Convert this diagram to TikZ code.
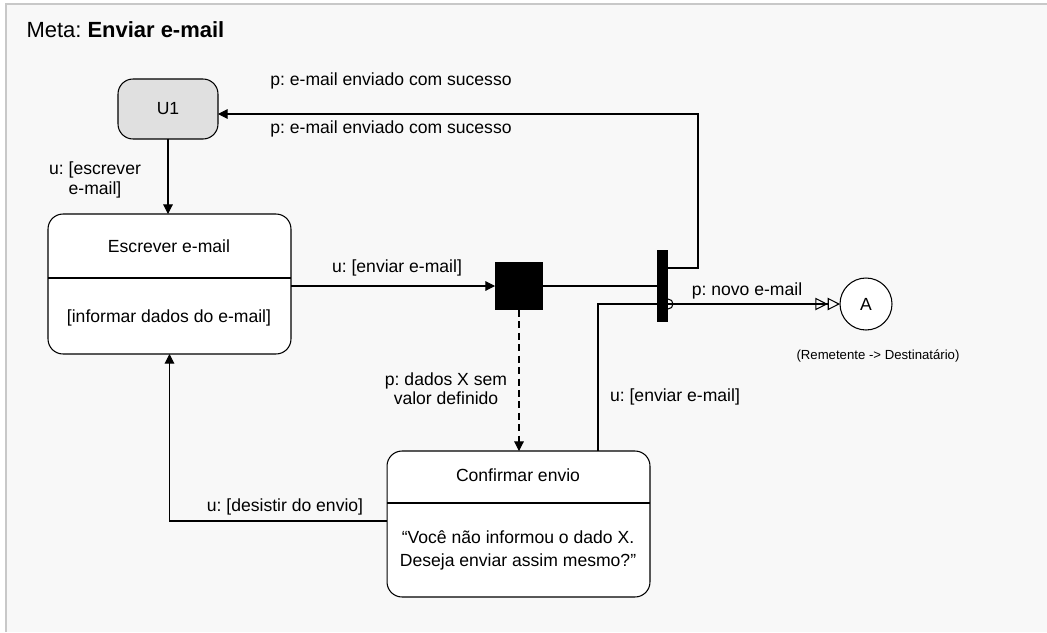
\documentclass[tikz,border=0pt]{standalone}
\usepackage{fontspec}
\setmainfont{Liberation Sans}
\usetikzlibrary{arrows.meta}
\frenchspacing

\definecolor{panelbg}{HTML}{F8F8F8}
\definecolor{framegray}{HTML}{C8C8C8}
\definecolor{userfill}{HTML}{E0E0E0}

\tikzset{
  state/.style={draw, rounded corners=0.3cm, fill=white, inner sep=0pt, outer sep=0pt},
  lbl/.style={align=center, inner sep=1pt},
  fork/.style={fill=black, inner sep=0pt, outer sep=0pt},
  opentips/.style={-{Triangle[open,length=7pt,width=7pt]Triangle[open,length=7pt,width=7pt]}},
}

\begin{document}
\begin{tikzpicture}[x=0.02cm, y=-0.02cm, >={Triangle[length=5.5pt,width=5.5pt]},
    line width=0.6pt, font=\fontsize{10}{11}\selectfont]
    % Panel
    \useasboundingbox (0,0) rectangle (1047,632);
    \fill[panelbg] (6,4) rectangle (1047,632);
    \draw[framegray, line width=1.2pt] (6,632) -- (6,4) -- (1047,4);
    \node[anchor=west, inner sep=0pt, font=\fontsize{12.5}{14}\selectfont] (title) at (26,30) {Meta: \textbf{Enviar e-mail}};

    % States
    \node[state, fill=userfill, minimum width=2cm, minimum height=1.2cm] (U1) at (168,109) {U1};
    \node[state, minimum width=4.86cm, minimum height=2.8cm] (esc) at (169.5,284) {};
    \draw (esc.west |- 0,278) -- (esc.east |- 0,278);
    \node[lbl] (escT) at (169,246) {Escrever e-mail};
    \node[lbl] (escB) at (169,318) {[informar dados do e-mail]};

    \node[state, minimum width=5.26cm, minimum height=2.92cm] (conf) at (518.5,524) {};
    \draw (conf.west |- 0,503) -- (conf.east |- 0,503);
    \node[lbl] (confT) at (518,475) {Confirmar envio};
    \node[lbl, font=\fontsize{10}{13}\selectfont] (confB) at (518,550) {``Você não informou o dado X.\\Deseja enviar assim mesmo?''};

    % Decision square and fork bar
    \node[fork, minimum size=0.96cm] (sq) at (519,286) {};
    \node[fork, minimum width=0.22cm, minimum height=1.44cm] (bar) at (662.5,286) {};

    % Use case A
    \node[draw, circle, fill=white, minimum size=1.04cm, inner sep=0pt, outer sep=0pt] (A) at (866,304) {A};
    \node[lbl, font=\fontsize{7.5}{9}\selectfont] (actors) at (878,356) {(Remetente -> Destinatário)};

    % Transitions
    \draw[->] (U1.south) -- (U1.south |- esc.north);
    \node[lbl] at (95,180) {u: [escrever\\e-mail]};

    \draw[->] (esc.east |- sq) -- (sq.west);
    \node[lbl] at (397,268) {u: [enviar e-mail]};

    \draw (sq.east) -- (bar.west |- sq);

    \coordinate (back) at (698,268);
    \draw[->] (bar.east |- back) -- (back) |- ([yshift=-0.1cm]U1.east);
    \node[lbl] at (391,81) {p: e-mail enviado com sucesso};
    \node[lbl] at (391,129) {p: e-mail enviado com sucesso};

    \coordinate (bump) at (668,304);
    \draw[opentips] (bar.east |- bump) -- (A.west);
    \draw (bar.east |- 0,299) arc[start angle=90, end angle=-90, radius=0.1cm];
    \node[lbl] at (747,291) {p: novo e-mail};

    \draw[->, dash pattern=on 4pt off 2.5pt] (sq.south) -- (sq.south |- conf.north);
    \node[lbl] at (446,389) {p: dados X sem\\valor definido};

    \draw (conf.north -| 598,0) |- (bar.west |- bump);
    \node[lbl] at (675,397) {u: [enviar e-mail]};

    \draw[->] (conf.west |- 0,521) -| (esc.south);
    \node[lbl] at (285,507) {u: [desistir do envio]};
\end{tikzpicture}
\end{document}
